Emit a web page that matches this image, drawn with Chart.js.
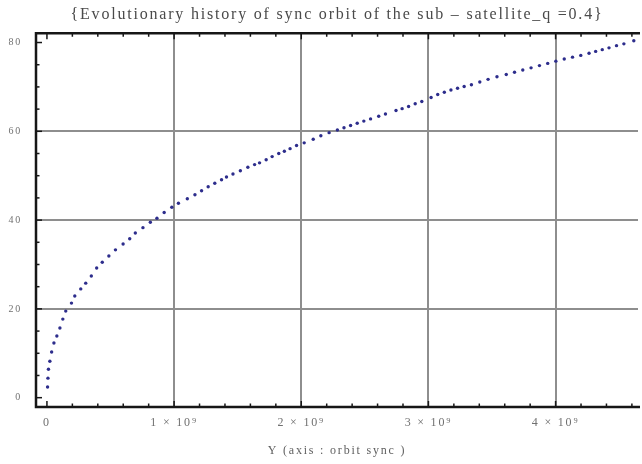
<!DOCTYPE html>
<html>
<head>
<meta charset="utf-8">
<script src="https://cdn.jsdelivr.net/npm/chart.js@4/dist/chart.umd.min.js"></script>
<style>
  html, body { margin: 0; padding: 0; background: #fff; }
  canvas { display: block; }
</style>
</head>
<body>
<canvas id="chart-canvas" width="642" height="464"></canvas>
<script>
// time axis in units of 1e9
const timeE9 = [
  0.005, 0.008, 0.012, 0.023, 0.037, 0.055, 0.078, 0.102, 0.125, 0.148,
  0.193, 0.219, 0.266, 0.305, 0.349, 0.391, 0.435, 0.487, 0.539, 0.599,
  0.651, 0.695, 0.755, 0.813, 0.865, 0.922, 0.982, 1.034, 1.104, 1.164,
  1.216, 1.268, 1.320, 1.373, 1.412, 1.463, 1.521, 1.580, 1.633, 1.672,
  1.724, 1.771, 1.823, 1.867, 1.912, 1.963, 2.023, 2.094, 2.154, 2.219,
  2.284, 2.336, 2.388, 2.440, 2.492, 2.545, 2.609, 2.662, 2.745, 2.793,
  2.844, 2.896, 2.948, 3.021, 3.073, 3.125, 3.177, 3.229, 3.281, 3.338,
  3.404, 3.469, 3.539, 3.612, 3.677, 3.742, 3.807, 3.873, 3.938, 4.002,
  4.068, 4.133, 4.198, 4.263, 4.315, 4.367, 4.420, 4.479, 4.537, 4.615
];
const syncOrbit = [
  2.4, 4.4, 6.4, 8.2, 10.3, 12.3, 13.9, 15.7, 17.7, 19.5,
  21.3, 22.9, 24.5, 25.8, 27.4, 29.2, 30.5, 31.9, 33.3, 34.6,
  35.8, 37.1, 38.3, 39.5, 40.4, 41.7, 42.9, 43.8, 44.8, 45.7,
  46.6, 47.5, 48.3, 49.1, 49.7, 50.4, 51.1, 51.9, 52.5, 52.9,
  53.6, 54.3, 55.0, 55.5, 56.1, 56.8, 57.4, 58.2, 59.0, 59.7,
  60.3, 60.8, 61.3, 61.8, 62.3, 62.8, 63.4, 63.9, 64.7, 65.1,
  65.6, 66.2, 66.7, 67.6, 68.3, 68.8, 69.3, 69.7, 70.1, 70.5,
  71.1, 71.7, 72.3, 72.8, 73.3, 73.8, 74.3, 74.8, 75.3, 75.8,
  76.3, 76.7, 77.1, 77.6, 78.0, 78.4, 78.8, 79.3, 79.7, 80.4
];

const xTicks = [0, 1, 2, 3, 4];
const xLabels = ['0', '1 × 10⁹', '2 × 10⁹', '3 × 10⁹', '4 × 10⁹'];
const xGrid = [1, 2, 3, 4];
const xMinor = [0, 0.2, 0.4, 0.6, 0.8, 1, 1.2, 1.4, 1.6, 1.8, 2, 2.2, 2.4, 2.6, 2.8,
  3, 3.2, 3.4, 3.6, 3.8, 4, 4.2, 4.4, 4.6];
const yTicks = [0, 20, 40, 60, 80];
const yGrid = [20, 40, 60];
const yMinor = [0, 5, 10, 15, 20, 25, 30, 35, 40, 45, 50, 55, 60, 65, 70, 75, 80];

const serif = "'Liberation Serif', 'DejaVu Serif', serif";

// the source picture is stretched sideways, so widen all text a bit
const spacingPlugin = {
  id: 'spacing',
  beforeDraw(chart) {
    chart.ctx.letterSpacing = '1.8px';
  }
};

// frame with small inward tick marks, like the Mathematica plot
const framePlugin = {
  id: 'frame',
  afterDraw(chart) {
    const { ctx, chartArea, scales } = chart;
    const { left, right, top, bottom } = chartArea;
    ctx.save();
    ctx.strokeStyle = '#161616';
    ctx.lineWidth = 1.5;
    xMinor.forEach((v) => {
      const px = scales.x.getPixelForValue(v);
      const len = xTicks.includes(v) ? 6 : 3.5;
      ctx.beginPath();
      ctx.moveTo(px, bottom);
      ctx.lineTo(px, bottom - len);
      ctx.moveTo(px, top);
      ctx.lineTo(px, top + len);
      ctx.stroke();
    });
    yMinor.forEach((v) => {
      const py = scales.y.getPixelForValue(v);
      const len = yTicks.includes(v) ? 6 : 3.5;
      ctx.beginPath();
      ctx.moveTo(left, py);
      ctx.lineTo(left + len, py);
      ctx.stroke();
    });
    ctx.lineWidth = 2.5;
    ctx.beginPath();
    ctx.moveTo(right + 2, top);
    ctx.lineTo(left, top);
    ctx.lineTo(left, bottom);
    ctx.lineTo(right + 2, bottom);
    ctx.stroke();
    ctx.restore();
  }
};

new Chart(document.getElementById('chart-canvas').getContext('2d'), {
  type: 'scatter',
  data: {
    datasets: [{
      data: timeE9.map((x, i) => ({ x: x, y: syncOrbit[i] })),
      pointRadius: 1.7,
      pointBorderWidth: 0,
      pointBackgroundColor: '#2d2d8c',
      showLine: false
    }]
  },
  options: {
    responsive: false,
    animation: false,
    layout: { padding: 0 },
    plugins: {
      legend: { display: false },
      tooltip: { enabled: false },
      title: {
        display: true,
        fullSize: false,
        text: '{Evolutionary history of sync orbit of the sub – satellite_q =0.4}',
        color: '#4a4a4a',
        font: { family: serif, size: 16, weight: 'normal' },
        padding: { top: 5, bottom: 9 }
      }
    },
    scales: {
      x: {
        type: 'linear',
        min: -0.086,
        max: 4.648,
        afterBuildTicks: (s) => { s.ticks = xTicks.map((v) => ({ value: v })); },
        afterFit: (s) => { s.height = 57; },
        border: { display: false },
        grid: {
          drawTicks: false,
          lineWidth: 2,
          color: (c) => (c.tick && xGrid.includes(c.tick.value) ? '#8e8e8e' : 'rgba(0,0,0,0)')
        },
        ticks: {
          padding: 9,
          color: '#707070',
          maxRotation: 0,
          font: { family: serif, size: 12 },
          callback: (v) => xLabels[xTicks.indexOf(v)]
        },
        title: {
          display: true,
          text: 'Y (axis : orbit sync )',
          color: '#606060',
          font: { family: serif, size: 12 },
          padding: { top: 0, bottom: 6 }
        }
      },
      y: {
        type: 'linear',
        min: -2.1,
        max: 82.1,
        afterBuildTicks: (s) => { s.ticks = yTicks.map((v) => ({ value: v })); },
        afterFit: (s) => { s.width = 36; },
        border: { display: false },
        grid: {
          drawTicks: false,
          lineWidth: 2,
          color: (c) => (c.tick && yGrid.includes(c.tick.value) ? '#8e8e8e' : 'rgba(0,0,0,0)')
        },
        ticks: {
          padding: 14,
          color: '#707070',
          font: { family: serif, size: 10 }
        }
      }
    }
  },
  plugins: [spacingPlugin, framePlugin]
});
</script>
</body>
</html>
